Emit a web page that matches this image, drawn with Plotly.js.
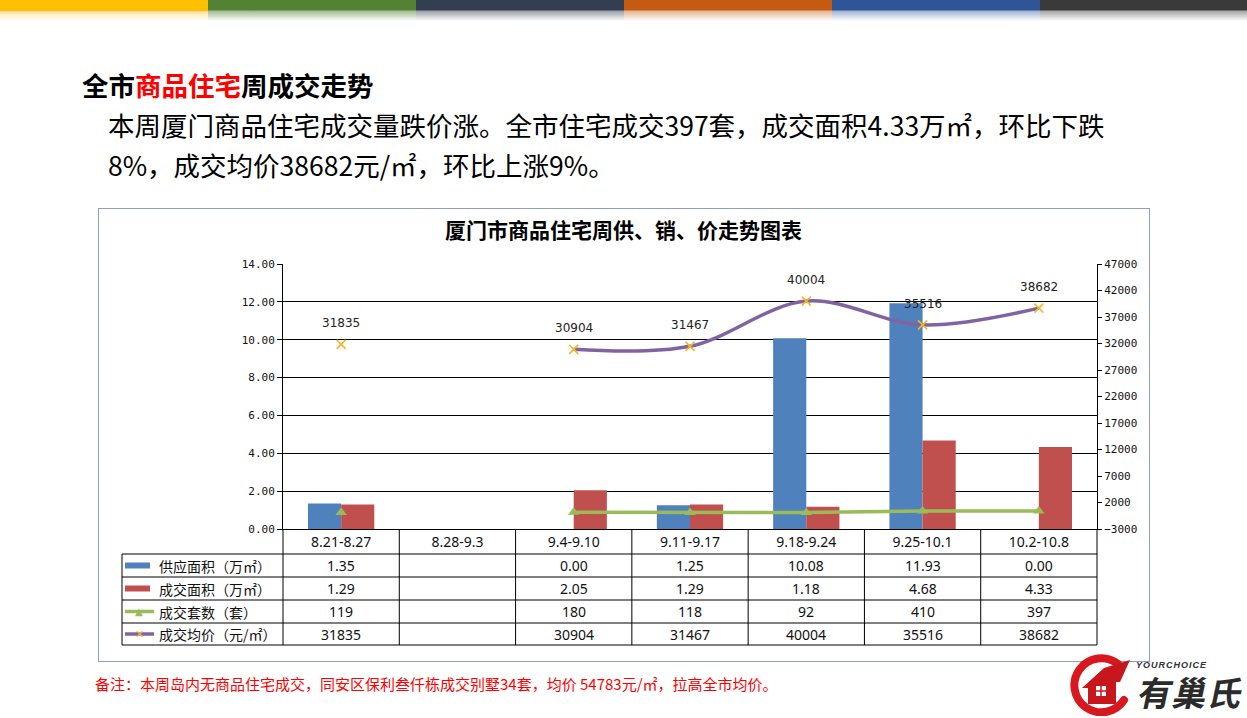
<!DOCTYPE html>
<html>
<head>
<meta charset="utf-8">
<script src="https://cdn.plot.ly/plotly-3.0.1.min.js"></script>
<style>
html, body { margin: 0; padding: 0; background: #fff; }
body { width: 1247px; height: 718px; position: relative; overflow: hidden; font-family: "Noto Sans CJK SC", sans-serif; }
.seg { position: absolute; top: 0; height: 22px; width: 208px; }
#heading { position: absolute; left: 82px; top: 72px; font-size: 26.5px; line-height: 26px; font-weight: bold; color: #000; white-space: nowrap; }
#heading span { color: #ff0000; }
#para { position: absolute; left: 108px; top: 105px; font-size: 26.5px; line-height: 40px; color: #000; white-space: nowrap; }
#box { position: absolute; left: 98px; top: 208px; width: 1050px; height: 452px; border: 1px solid #8da0be; }
#chart { position: absolute; left: 98px; top: 208px; width: 1052px; height: 454px; }
#note { position: absolute; left: 95px; top: 676px; font-size: 15px; line-height: 15px; color: #ff0000; white-space: nowrap; }
#logo { position: absolute; left: 1060px; top: 650px; }
</style>
</head>
<body>
<div class="seg" style="left:0;background:linear-gradient(to bottom,#ffc000 0,#ffc000 10px,#f2a900 10px,rgba(255,205,60,0.45) 12px,rgba(255,255,255,0) 21px)"></div>
<div class="seg" style="left:208px;background:linear-gradient(to bottom,#548235 0,#548235 10px,rgba(84,130,53,0.55) 11px,rgba(84,130,53,0) 21px)"></div>
<div class="seg" style="left:416px;background:linear-gradient(to bottom,#333f50 0,#333f50 10px,rgba(51,63,80,0.5) 11px,rgba(51,63,80,0) 21px)"></div>
<div class="seg" style="left:624px;background:linear-gradient(to bottom,#c55a11 0,#c55a11 10px,rgba(197,90,17,0.45) 11px,rgba(197,90,17,0) 21px)"></div>
<div class="seg" style="left:832px;background:linear-gradient(to bottom,#2f5597 0,#2f5597 10px,rgba(47,85,151,0.45) 11px,rgba(47,85,151,0) 21px)"></div>
<div class="seg" style="left:1040px;width:207px;background:linear-gradient(to bottom,#3a3a3a 0,#3a3a3a 10px,rgba(58,58,58,0.45) 11px,rgba(58,58,58,0) 21px)"></div>

<div id="heading">全市<span>商品住宅</span>周成交走势</div>
<div id="para">本周厦门商品住宅成交量跌价涨。全市住宅成交397套，成交面积4.33万㎡，环比下跌<br>8%，成交均价38682元/㎡，环比上涨9%。</div>

<div id="box"></div>
<div id="chart"></div>

<div id="note">备注：本周岛内无商品住宅成交，同安区保利叁仟栋成交别墅34套，均价 54783元/㎡，拉高全市均价。</div>

<svg id="logo" width="187" height="66">
  <path d="M 58 14 A 27 27 0 1 0 64 50" fill="none" stroke="#d7191f" stroke-width="8" stroke-linecap="round"/>
  <path d="M 22 38 L 44 18 L 70 10 L 60 32 L 56 32 L 56 54 L 28 54 L 28 38 Z" fill="#c8161d"/>
  <rect x="36" y="36" width="10" height="10" fill="#fff"/>
  <line x1="41" y1="36" x2="41" y2="46" stroke="#c8161d" stroke-width="1.5"/>
  <line x1="36" y1="41" x2="46" y2="41" stroke="#c8161d" stroke-width="1.5"/>
  <text x="76" y="18" font-size="9" font-style="italic" font-weight="bold" fill="#333" textLength="70" font-family="Liberation Sans">YOURCHOICE</text>
  <g transform="translate(76,56) skewX(-12)">
    <text x="0" y="0" font-size="34" font-weight="bold" fill="#2b2b2b" font-family="Noto Sans CJK SC" textLength="104">有巢氏</text>
  </g>
</svg>

<script>
// 周次
const weeks = ['8.21-8.27', '8.28-9.3', '9.4-9.10', '9.11-9.17', '9.18-9.24', '9.25-10.1', '10.2-10.8'];
// 供应面积、成交面积（万㎡）
const supplyArea = [1.35, null, 0.00, 1.25, 10.08, 11.93, 0.00];
const dealArea = [1.29, null, 2.05, 1.29, 1.18, 4.68, 4.33];
// 成交套数（套）
const dealUnits = [119, null, 180, 118, 92, 410, 397];
// 成交均价（元/㎡）
const avgPrice = [31835, null, 30904, 31467, 40004, 35516, 38682];

const seriesNames = ['供应面积（万㎡）', '成交面积（万㎡）', '成交套数（套）', '成交均价（元/㎡）'];
const colors = ['#4f81bd', '#c0504d', '#9bbb59', '#8064a2'];
const priceMarkerColor = '#f3b72a';

// 尺寸（像素）
const plotW = 814, plotH = 265;
const rowEdges = [0, 25, 48, 71, 94, 116];   // 表格各行下边线，距绘图区底部
const legendColLeft = -161;                   // 图例列左边，距绘图区左边

const px = v => v / plotW;
const py = v => -v / plotH;

const traces = [
    {
        x: weeks, y: supplyArea, type: 'bar', name: seriesNames[0],
        marker: { color: colors[0] }, hoverinfo: 'skip'
    },
    {
        x: weeks, y: dealArea, type: 'bar', name: seriesNames[1],
        marker: { color: colors[1] }, hoverinfo: 'skip'
    },
    {
        x: weeks, y: dealUnits, type: 'scatter', mode: 'lines+markers', yaxis: 'y2',
        name: seriesNames[2], connectgaps: false,
        line: { color: colors[2], width: 3.5 },
        marker: { symbol: 'triangle-up', size: 10, color: colors[2] }, hoverinfo: 'skip'
    },
    {
        x: weeks, y: avgPrice, type: 'scatter', mode: 'lines+markers', yaxis: 'y2',
        name: seriesNames[3], connectgaps: false,
        line: { color: colors[3], width: 3.5, shape: 'spline', smoothing: 1 },
        marker: { symbol: 'x-thin-open', size: 9, color: priceMarkerColor, line: { color: priceMarkerColor, width: 1.6 } },
        hoverinfo: 'skip'
    }
];

const shapes = [];
const annotations = [];

// 表格竖线
for (let i = 0; i <= weeks.length; i++) {
    shapes.push({
        type: 'line', xref: 'paper', yref: 'paper',
        x0: i / weeks.length, x1: i / weeks.length, y0: 0, y1: py(rowEdges[rowEdges.length - 1]),
        line: { color: '#000', width: 1 }
    });
}
shapes.push({
    type: 'line', xref: 'paper', yref: 'paper',
    x0: px(legendColLeft), x1: px(legendColLeft), y0: py(rowEdges[1]), y1: py(rowEdges[rowEdges.length - 1]),
    line: { color: '#000', width: 1 }
});
// 表格横线
for (let r = 1; r < rowEdges.length; r++) {
    shapes.push({
        type: 'line', xref: 'paper', yref: 'paper',
        x0: px(legendColLeft), x1: 1, y0: py(rowEdges[r]), y1: py(rowEdges[r]),
        line: { color: '#000', width: 1 }
    });
}

// 表格内容
const tableRows = [
    supplyArea.map(v => v === null ? '' : v.toFixed(2)),
    dealArea.map(v => v === null ? '' : v.toFixed(2)),
    dealUnits.map(v => v === null ? '' : String(v)),
    avgPrice.map(v => v === null ? '' : String(v))
];

tableRows.forEach((row, r) => {
    const yMid = py((rowEdges[r + 1] + rowEdges[r + 2]) / 2);
    // 图例符号
    if (r < 2) {
        shapes.push({
            type: 'rect', xref: 'paper', yref: 'paper',
            x0: px(125 - 283), x1: px(150 - 283), y0: yMid - 3 / plotH, y1: yMid + 3 / plotH,
            fillcolor: colors[r], line: { width: 0 }
        });
    } else {
        shapes.push({
            type: 'line', xref: 'paper', yref: 'paper',
            x0: px(125 - 283), x1: px(154 - 283), y0: yMid, y1: yMid,
            line: { color: colors[r], width: 3.5 }
        });
        annotations.push({
            xref: 'paper', yref: 'paper', x: px(139 - 283), y: yMid,
            text: r === 2 ? '▲' : '✕', showarrow: false,
            font: { family: 'DejaVu Sans', size: r === 2 ? 10 : 11, color: r === 2 ? colors[2] : priceMarkerColor },
            xanchor: 'center', yanchor: 'middle'
        });
    }
    annotations.push({
        xref: 'paper', yref: 'paper', x: px(157 - 283), y: yMid,
        text: seriesNames[r], showarrow: false, xanchor: 'left', yanchor: 'middle',
        font: { family: 'Noto Sans CJK SC', size: 14, color: '#111' }
    });
    row.forEach((txt, j) => {
        if (!txt) return;
        annotations.push({
            xref: 'x', yref: 'paper', x: weeks[j], y: yMid,
            text: txt, showarrow: false, xanchor: 'center', yanchor: 'middle',
            font: { family: 'Noto Sans', size: 14, color: '#111' }
        });
    });
});

// 均价数据标签
avgPrice.forEach((v, j) => {
    if (v === null) return;
    annotations.push({
        xref: 'x', yref: 'y2', x: weeks[j], y: v, yshift: 21,
        text: String(v), showarrow: false, xanchor: 'center', yanchor: 'middle',
        font: { family: 'DejaVu Sans', size: 12, color: '#222' }
    });
});

const tickFont = { family: 'DejaVu Sans Mono', size: 11, color: '#111' };

const layout = {
    width: 1052,
    height: 454,
    margin: { l: 185, r: 53, t: 56, b: 133 },
    paper_bgcolor: 'rgba(0,0,0,0)',
    plot_bgcolor: 'rgba(0,0,0,0)',
    showlegend: false,
    barmode: 'group',
    bargap: 0.43,
    bargroupgap: 0,
    title: {
        text: '厦门市商品住宅周供、销、价走势图表',
        xref: 'container', yref: 'container', x: 0.4995, y: 1 - 23 / 454,
        xanchor: 'center', yanchor: 'middle',
        font: { family: 'Noto Sans CJK SC', size: 21, weight: 'bold', color: '#000' }
    },
    xaxis: {
        type: 'category',
        categoryorder: 'array',
        categoryarray: weeks,
        showline: true, linecolor: '#000', linewidth: 1,
        ticks: '', showgrid: false, zeroline: false,
        tickfont: { family: 'Noto Sans', size: 14, color: '#111' },
        fixedrange: true
    },
    yaxis: {
        range: [0, 14], dtick: 2, tick0: 0, tickformat: '.2f',
        showline: true, linecolor: '#000', linewidth: 1,
        ticks: 'outside', ticklen: 5, tickcolor: '#000',
        showgrid: true, gridcolor: '#000', gridwidth: 1, zeroline: false,
        tickfont: tickFont, fixedrange: true
    },
    yaxis2: {
        overlaying: 'y', side: 'right',
        range: [-3000, 47000], dtick: 5000, tick0: -3000, tickformat: 'd',
        showline: true, linecolor: '#000', linewidth: 1,
        ticks: 'outside', ticklen: 4, tickcolor: '#000',
        showgrid: false, zeroline: false,
        tickfont: tickFont, fixedrange: true
    },
    shapes: shapes,
    annotations: annotations
};

Plotly.newPlot('chart', traces, layout, { displayModeBar: false, staticPlot: true });
</script>
</body>
</html>
